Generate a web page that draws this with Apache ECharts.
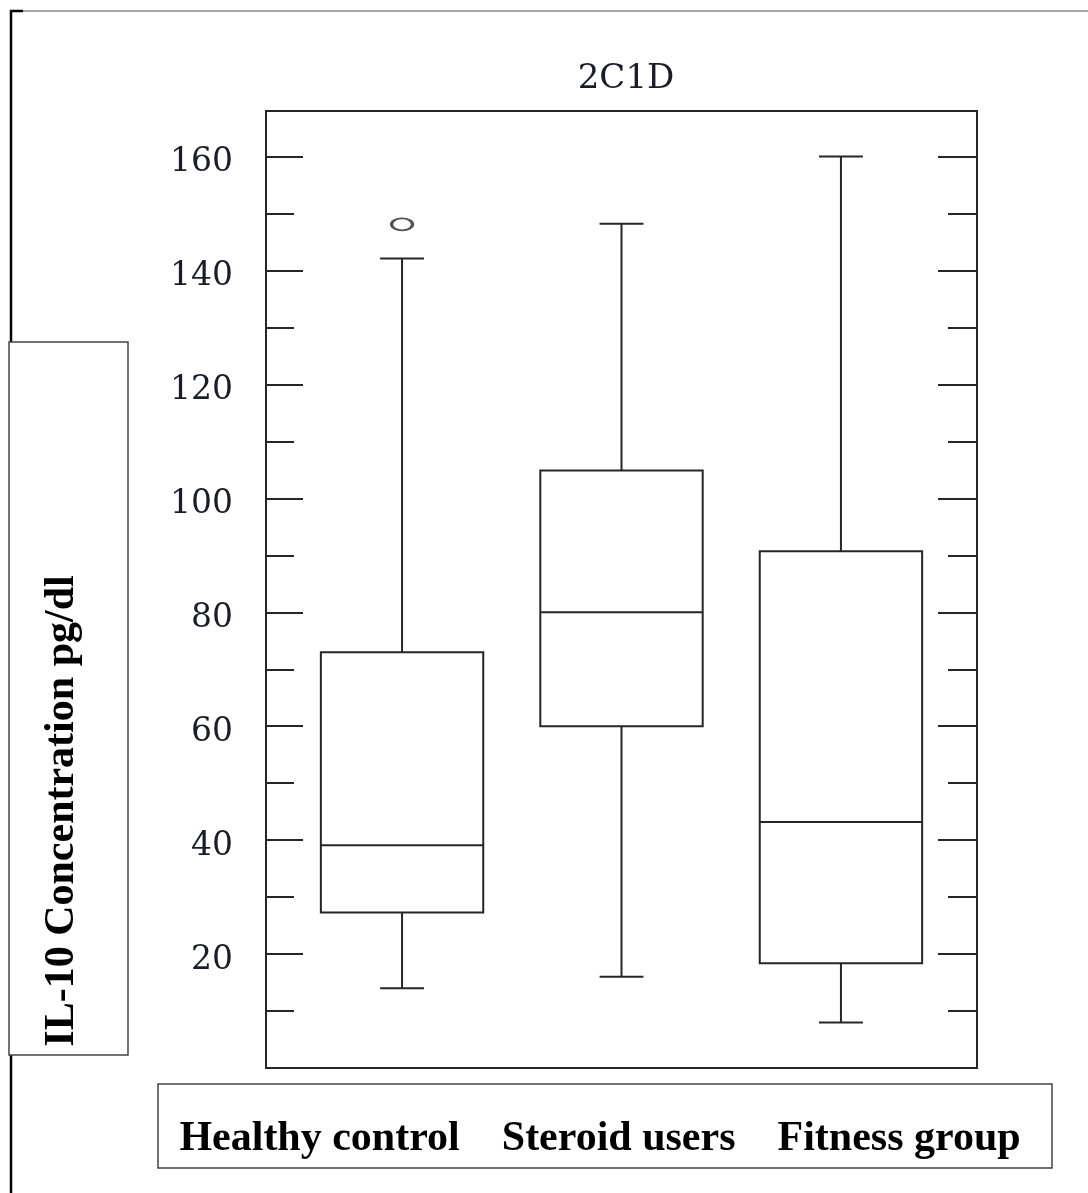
<!DOCTYPE html>
<html>
<head>
<meta charset="utf-8">
<script src="https://cdn.jsdelivr.net/npm/echarts@6/dist/echarts.min.js"></script>
<style>html,body{margin:0;padding:0;background:#fff;}#c{width:1088px;height:1193px;}</style>
</head>
<body>
<div id="c"></div>
<script>
var categories = ['Healthy control', 'Steroid users', 'Fitness group'];
var positions = [1, 2, 3];
var lowWhisker = [14, 16, 8];
var q1Values = [27.3, 60, 18.4];
var medians = [39.1, 80, 43.2];
var q3Values = [73, 104.9, 90.7];
var highWhisker = [142.1, 148.2, 160];
var outliers = [[1, 148.1]];
var yTickLabels = [20, 40, 60, 80, 100, 120, 140, 160];

var boxData = positions.map(function (p, i) {
  return [p, lowWhisker[i], q1Values[i], medians[i], q3Values[i], highWhisker[i]];
});

var LINE = '#262626';
var BOX_W = 0.74, CAP_W = 0.2;
var labelFont = 'DejaVu Serif';

function yAxisDef(pos, interval, len, showLabel) {
  return {
    type: 'value', min: 0, max: 168, interval: interval, position: pos,
    axisLine: { show: false },
    splitLine: { show: false },
    axisTick: { show: true, inside: true, length: len, lineStyle: { color: LINE, width: 2 } },
    axisLabel: {
      show: showLabel, margin: 33, color: '#1c1c28', fontFamily: labelFont, fontSize: 33,
      formatter: function (v) { return yTickLabels.indexOf(v) >= 0 ? '{n|' + v + '}' : ''; },
      rich: { n: { fontFamily: labelFont, fontSize: 33, color: '#1c1c28', padding: [12, 0, 0, 0] } }
    }
  };
}

var chart = echarts.init(document.getElementById('c'));
chart.setOption({
  animation: false,
  backgroundColor: '#fff',
  title: {
    text: '2C1D', left: 621, top: 57, textAlign: 'center',
    textStyle: { fontFamily: labelFont, fontWeight: 'normal', fontSize: 34, color: '#1c1c28' }
  },
  grid: { left: 266, top: 111, width: 711, height: 957, show: true, borderColor: LINE, borderWidth: 2, backgroundColor: 'transparent' },
  xAxis: {
    type: 'value', min: 0.38, max: 3.62,
    axisLine: { show: false }, axisTick: { show: false }, axisLabel: { show: false }, splitLine: { show: false }
  },
  yAxis: [
    yAxisDef('left', 20, 37, true),
    yAxisDef('left', 10, 28, false),
    yAxisDef('right', 20, 39, false),
    yAxisDef('right', 10, 29, false)
  ],
  series: [
    {
      type: 'custom',
      data: boxData,
      encode: { x: 0, y: [1, 2, 3, 4, 5] },
      renderItem: function (params, api) {
        var x = api.value(0);
        var pLow = api.coord([x, api.value(1)]);
        var pQ1 = api.coord([x, api.value(2)]);
        var pMed = api.coord([x, api.value(3)]);
        var pQ3 = api.coord([x, api.value(4)]);
        var pHigh = api.coord([x, api.value(5)]);
        var half = api.size([BOX_W, 0])[0] / 2;
        var cap = api.size([CAP_W, 0])[0] / 2;
        var cx = pMed[0];
        var st = { stroke: LINE, lineWidth: 2, fill: null };
        return {
          type: 'group',
          children: [
            { type: 'rect', shape: { x: cx - half, y: pQ3[1], width: half * 2, height: pQ1[1] - pQ3[1] }, style: { stroke: LINE, lineWidth: 2, fill: 'transparent' } },
            { type: 'line', shape: { x1: cx - half, y1: pMed[1], x2: cx + half, y2: pMed[1] }, style: st },
            { type: 'line', shape: { x1: cx, y1: pQ3[1], x2: cx, y2: pHigh[1] }, style: st },
            { type: 'line', shape: { x1: cx, y1: pQ1[1], x2: cx, y2: pLow[1] }, style: st },
            { type: 'line', shape: { x1: cx - cap, y1: pHigh[1], x2: cx + cap, y2: pHigh[1] }, style: st },
            { type: 'line', shape: { x1: cx - cap, y1: pLow[1], x2: cx + cap, y2: pLow[1] }, style: st }
          ]
        };
      }
    },
    {
      type: 'scatter',
      data: outliers,
      symbol: 'path://M0,5a10,5 0 1,0 20,0a10,5 0 1,0 -20,0z',
      symbolSize: [21, 12],
      itemStyle: { color: 'transparent', borderColor: LINE, borderWidth: 2.5 }
    }
  ],
  graphic: [
    { type: 'line', shape: { x1: 11, y1: 11, x2: 1088, y2: 11 }, style: { stroke: '#8a8a8a', lineWidth: 1.5 } },
    { type: 'line', shape: { x1: 11, y1: 10, x2: 11, y2: 1193 }, style: { stroke: '#000', lineWidth: 2.5 } },
    { type: 'line', shape: { x1: 10, y1: 11, x2: 23, y2: 11 }, style: { stroke: '#000', lineWidth: 2.5 } },
    { type: 'rect', shape: { x: 9, y: 342, width: 119, height: 713 }, style: { fill: '#fff', stroke: '#444', lineWidth: 1.5 } },
    {
      type: 'text', x: 62, y: 811, rotation: Math.PI / 2,
      style: { text: 'IL-10 Concentration pg/dl', fontFamily: 'Liberation Serif', fontWeight: 'bold', fontSize: 42, fill: '#000', textAlign: 'center', textVerticalAlign: 'middle' }
    },
    { type: 'rect', shape: { x: 158, y: 1084, width: 894, height: 84 }, style: { fill: '#fff', stroke: '#444', lineWidth: 1.5 } },
    {
      type: 'text', x: 600, y: 1139,
      style: { text: categories.join('    '), fontFamily: 'Liberation Serif', fontWeight: 'bold', fontSize: 42, fill: '#000', textAlign: 'center', textVerticalAlign: 'middle' }
    }
  ]
});
</script>
</body>
</html>
